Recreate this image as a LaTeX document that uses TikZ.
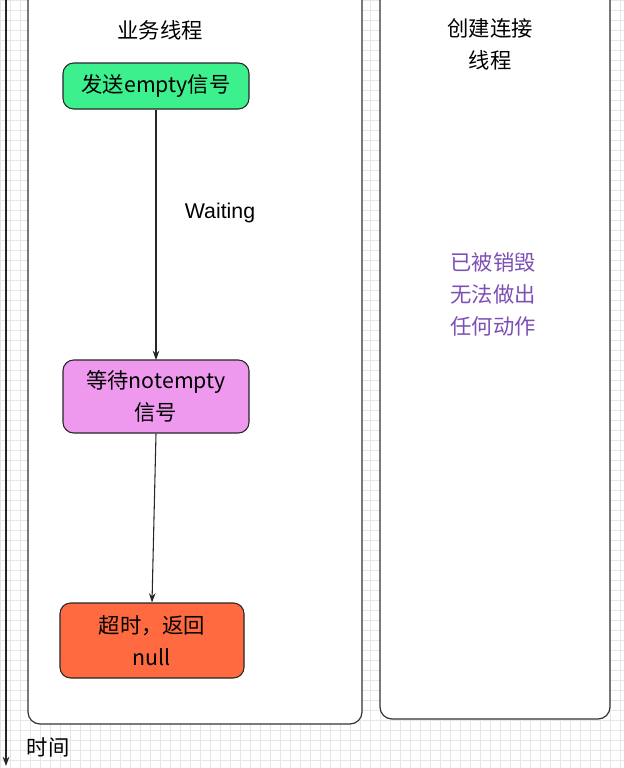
\documentclass[tikz,border=0pt]{standalone}
\usepackage{fontspec}
\setmainfont{Liberation Sans}
\newfontfamily\cjk{Noto Sans CJK SC}
\usetikzlibrary{arrows.meta}
\definecolor{gridc}{HTML}{E6E6E6}
\definecolor{greenc}{HTML}{3DF08E}
\definecolor{pinkc}{HTML}{EE99EE}
\definecolor{redc}{HTML}{FF6A40}
\definecolor{purp}{HTML}{7E4FB5}
\begin{document}
\begin{tikzpicture}[x=0.75pt,y=-0.75pt,
  panel/.style={draw=black!80,line width=0.9pt,rounded corners=9pt,fill=white},
  stepbox/.style={draw=black!85,line width=0.8pt,rounded corners=8pt,minimum width=139.5pt,align=center,font=\cjk\fontsize{16}{24}\selectfont,inner sep=0pt},
  conn/.style={draw=black!85,line width=0.8pt,-{Stealth[length=7pt,width=5pt]}},
  lbl/.style={font=\cjk\fontsize{16}{24}\selectfont,align=center}]
\useasboundingbox (0,0) rectangle (624,768);
\fill[white] (0,0) rectangle (624,768);
\foreach \i in {0,10,...,620} \draw[gridc,line width=0.3pt] (\i,0) -- (\i,768);
\foreach \j in {0,10,...,760} \draw[gridc,line width=0.3pt] (0,\j) -- (624,\j);
\draw[panel] (28,-20) rectangle (362,724);
\draw[panel] (380,-20) rectangle (610,719);
\node[lbl] (t1) at (160,30) {业务线程};
\node[lbl] (t2) at (490,44) {创建连接\\线程};
\node[stepbox,fill=greenc,minimum height=34.5pt] (a) at (156,86) {发送empty信号};
\node[stepbox,fill=pinkc,minimum height=54.75pt] (b) at (156,396.5) {等待notempty\\信号};
\node[stepbox,fill=redc,minimum height=56.25pt,minimum width=138pt] (c) at (152,640.5) {超时，返回\\null};
\coordinate (bin) at (156,360);
\draw[conn] (a) -- (bin);
\draw[conn] (b.south) -- (c.north);
\node[font=\fontsize{16}{20}\selectfont] (w) at (220,213) {Waiting};
\node[lbl,text=purp] (d) at (493,294) {已被销毁\\无法做出\\任何动作};
\coordinate (ax0) at (6,0);
\coordinate (ax1) at (6,766);
\draw[conn,line width=1pt] (ax0) -- (ax1);
\node[lbl,anchor=west] (time) at (22,747) {时间};
\end{tikzpicture}
\end{document}
